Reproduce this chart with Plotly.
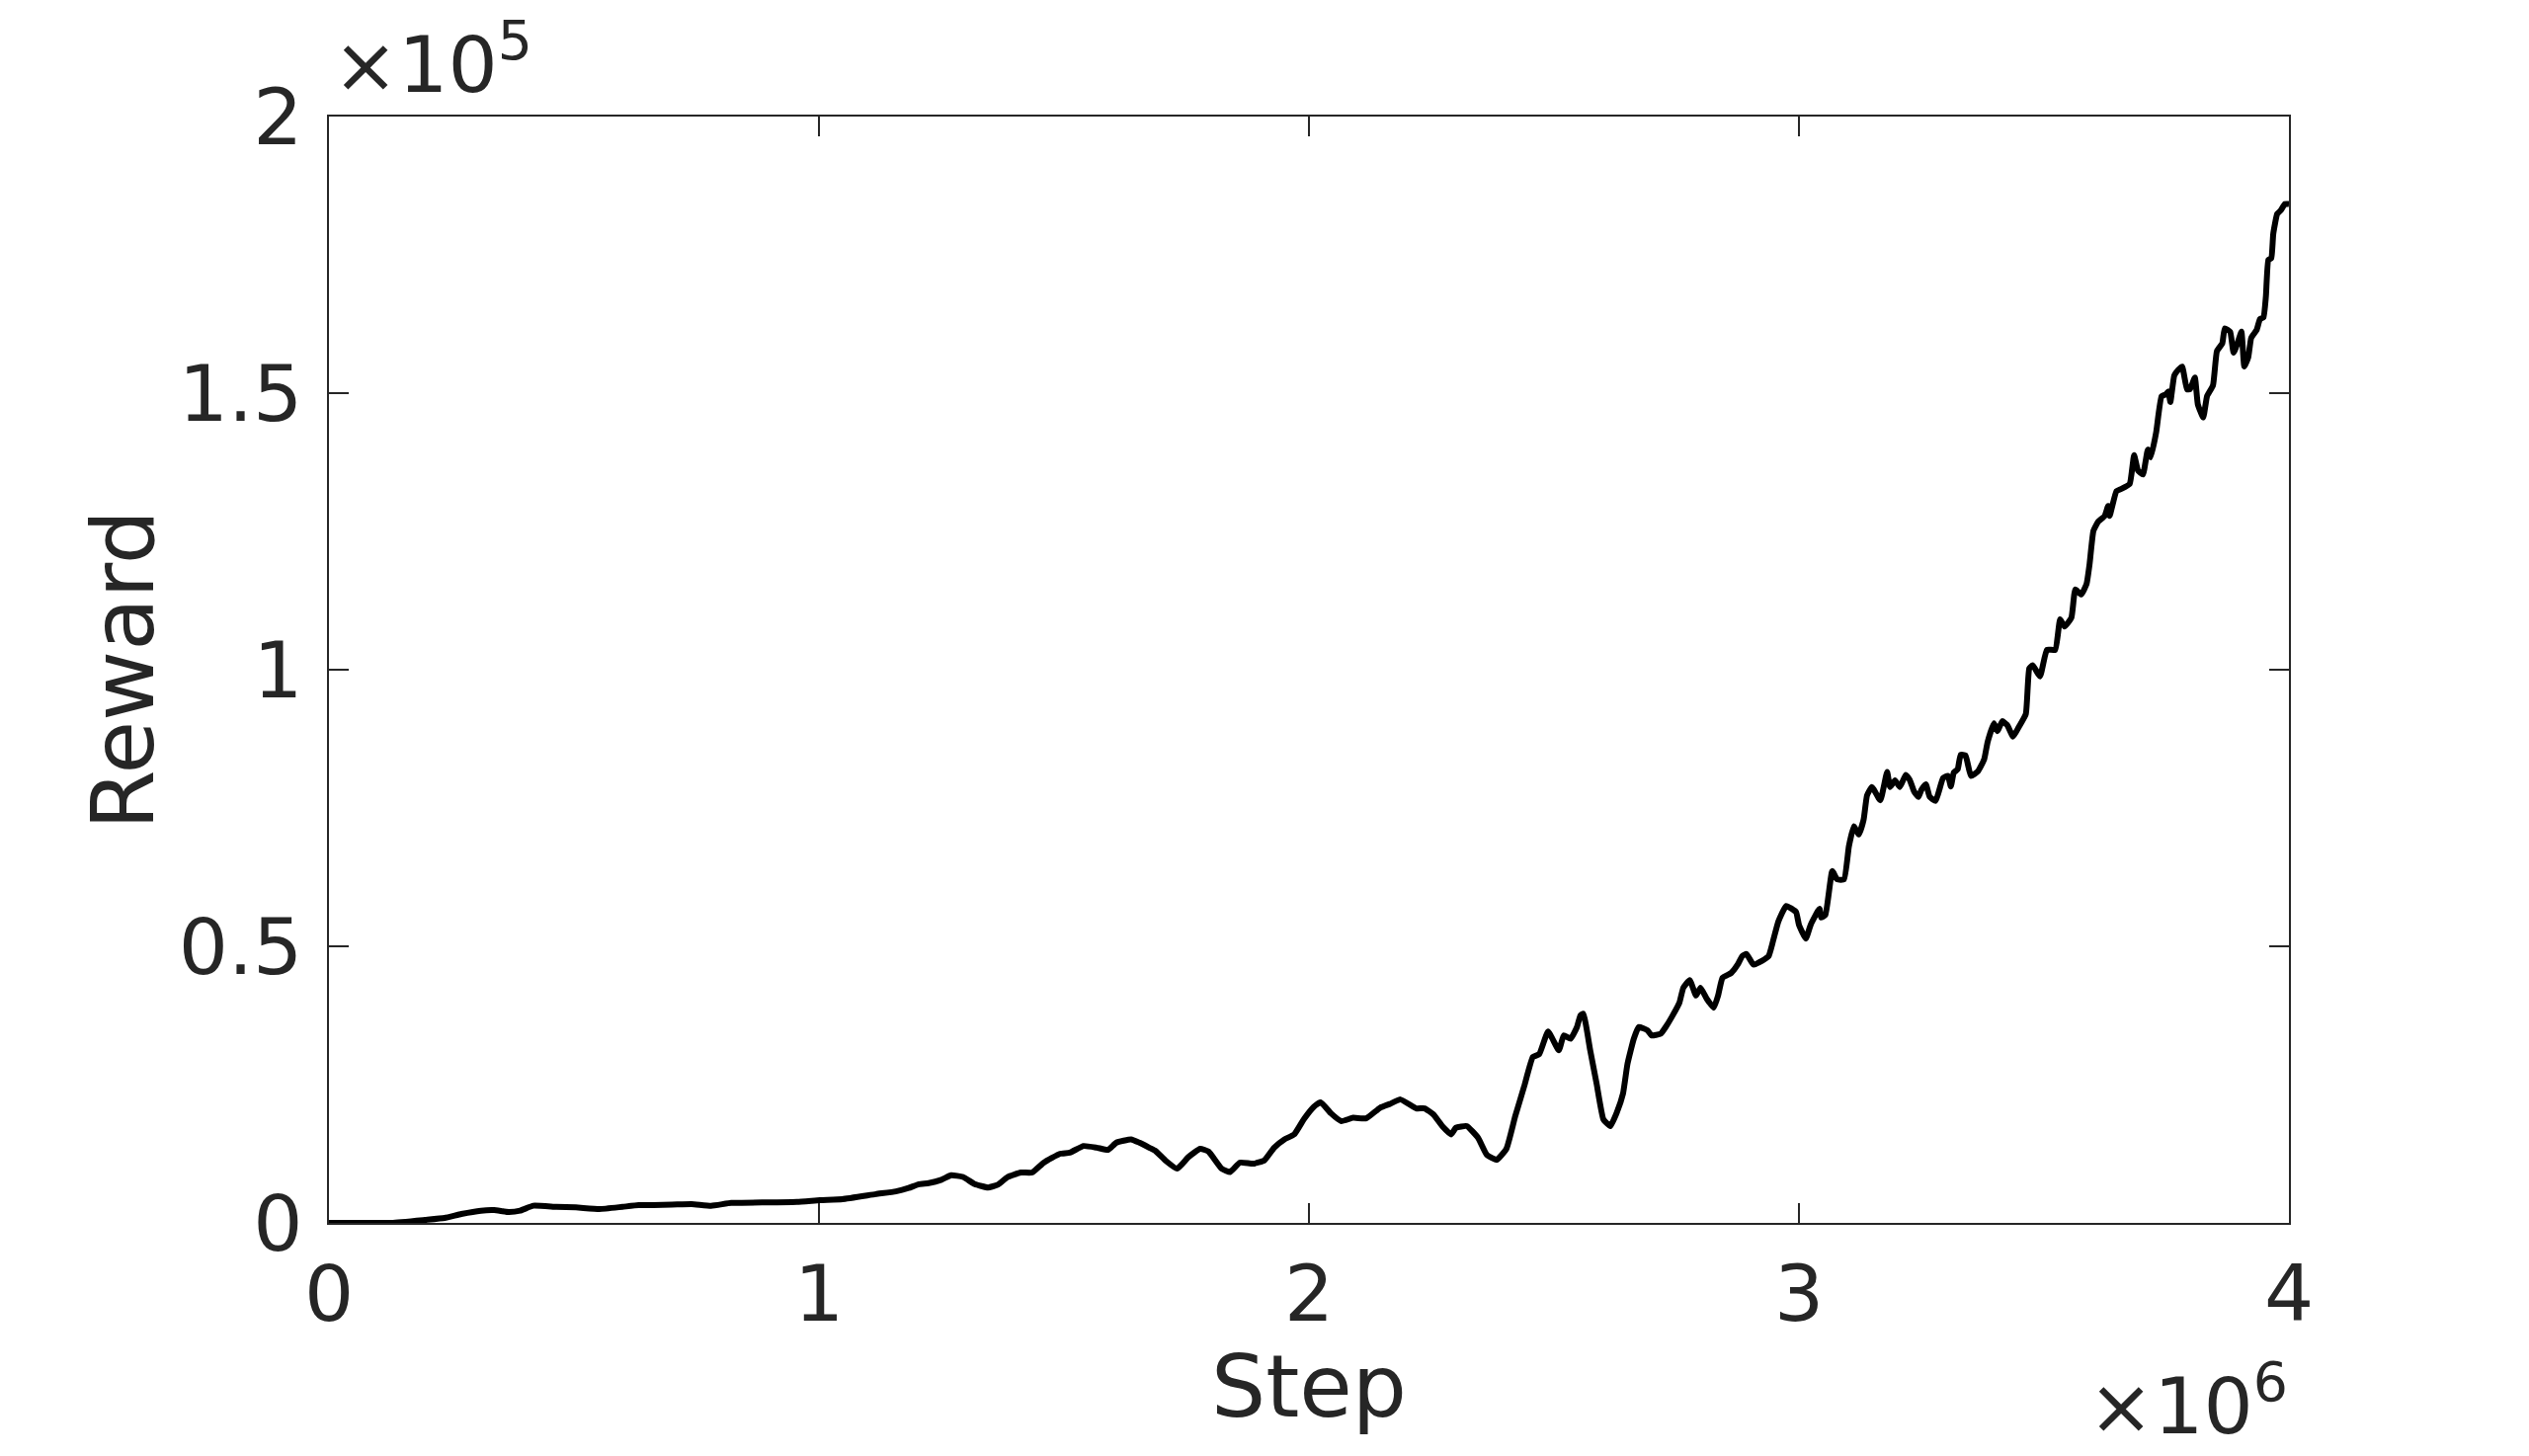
import plotly.graph_objects as go

# Training curve: environment steps vs. reward
steps_k = [
    0, 60, 128, 196, 236, 270, 310, 337, 367, 390, 417, 464, 504, 552, 599, 632,
    700, 740, 780, 821, 901, 955, 1002, 1048, 1116, 1157, 1183, 1204, 1224, 1250,
    1270, 1294, 1318, 1345, 1365, 1385, 1412, 1435, 1459, 1492, 1512, 1540, 1567,
    1590, 1607, 1637, 1654, 1674, 1687, 1708, 1731, 1754, 1778, 1795, 1822, 1839,
    1859, 1886, 1909, 1929, 1950, 1970, 1990, 2010, 2024, 2045, 2066, 2090, 2117,
    2145, 2165, 2187, 2219, 2236, 2254, 2272, 2290, 2300, 2322, 2345, 2363, 2383,
    2403, 2421, 2439, 2457, 2470, 2488, 2510, 2520, 2534, 2547, 2554, 2560, 2574,
    2587, 2601, 2615, 2628, 2641, 2650, 2663, 2673, 2691, 2699, 2718, 2728, 2741,
    2756, 2764, 2777, 2790, 2799, 2812, 2826, 2835, 2844, 2862, 2875, 2884, 2893,
    2907, 2925, 2938, 2947, 2958, 2974, 2994, 3000, 3014, 3024, 3042, 3045, 3054,
    3068, 3078, 3092, 3102, 3112, 3122, 3132, 3139, 3149, 3166, 3180, 3186, 3196,
    3206, 3218, 3226, 3235, 3244, 3250, 3259, 3267, 3279, 3294, 3304, 3310, 3316,
    3324, 3330, 3340, 3351, 3365, 3378, 3385, 3398, 3405, 3415, 3425, 3437, 3449,
    3463, 3470, 3477, 3492, 3506, 3523, 3533, 3542, 3556, 3564, 3576, 3587, 3593,
    3601, 3611, 3624, 3631, 3634, 3648, 3658, 3675, 3684, 3692, 3702, 3712, 3718,
    3729, 3740, 3749, 3754, 3758, 3766, 3774, 3782, 3792, 3798, 3808, 3814, 3825,
    3833, 3845, 3853, 3864, 3869, 3880, 3887, 3895, 3903, 3909, 3917, 3923, 3934,
    3941, 3948, 3953, 3958, 3964, 3968, 3976, 3983, 3992, 4000,
]
reward = [
    0, 0, 0, 540, 890, 1600, 2200, 2300, 1960, 2200, 3100, 2900, 2800, 2500, 2900, 3200,
    3300, 3400, 3100, 3600, 3700, 3800, 4100, 4300, 5200, 5700, 6300, 7000, 7200, 7800,
    8600, 8300, 7000, 6400, 6900, 8300, 9100, 9100, 10900, 12500, 12700, 13900, 13600,
    13200, 14500, 15100, 14500, 13600, 13000, 11200, 9800, 11900, 13400, 12900, 9800, 9200,
    10900, 10700, 11300, 13600, 15100, 16000, 18800, 21000, 21800, 19800, 18400, 19000, 18900,
    20800, 21500, 22300, 20700, 20700, 19600, 17500, 16000, 17200, 17500, 15400, 12300, 11400,
    13400, 19300, 24600, 30000, 30500, 34600, 31200, 33900, 33300, 35400, 37500, 37800, 31200,
    25200, 18700, 17500, 19900, 23400, 28700, 33300, 35400, 34800, 33900, 34200, 35400, 37300,
    39800, 42500, 43900, 41100, 42500, 40500, 38900, 41100, 44300, 45200, 46700, 48200, 48600,
    46700, 47400, 48200, 50900, 54500, 57300, 56200, 53900, 51400, 53900, 56800, 55200, 55700,
    63600, 62100, 62100, 68100, 71700, 70200, 72900, 77300, 78800, 76400, 81500, 78800, 80000,
    78800, 81000, 80100, 78000, 77000, 78300, 79300, 77000, 76300, 80400, 80800, 78900, 81400,
    82000, 84600, 84500, 80800, 81600, 83800, 86900, 90300, 88900, 90700, 90000, 87900, 89700,
    92000, 100200, 100800, 98800, 103600, 103600, 109100, 107800, 109400, 114500, 113600, 115500, 119000,
    125100, 126800, 127800, 129600, 127800, 132300, 132700, 133600, 138800, 136000, 135300, 139800, 138400,
    142900, 149400, 149800, 150300, 148400, 153200, 154200, 154800, 150700, 150700, 152800, 148000, 145600,
    149500, 151400, 157600, 159000, 161700, 161100, 157300, 159000, 161100, 154800, 156500, 160000, 161400,
    163400, 163700, 167500, 174100, 174400, 178800, 182400, 183000, 184200, 184200,
]
steps = [s * 1000 for s in steps_k]

x_tickvals = [0, 1e6, 2e6, 3e6, 4e6]
x_ticktext = ["0", "1", "2", "3", "4"]
y_tickvals = [0, 50000, 100000, 150000, 200000]
y_ticktext = ["0", "0.5", "1", "1.5", "2"]

TXT = "#262626"
FONT = "DejaVu Sans"
TICK_SIZE = 79
TITLE_SIZE = 87

fig = go.Figure()
fig.add_trace(go.Scatter(x=steps, y=reward, mode="lines",
                         line=dict(color="black", width=6, shape="spline", smoothing=0.4),
                         showlegend=False))

axis_common = dict(
    showgrid=False, zeroline=False, showline=True, linecolor=TXT, linewidth=1.6,
    mirror="ticks", ticks="inside", ticklen=20, tickwidth=1.6, tickcolor=TXT,
    tickfont=dict(family=FONT, size=TICK_SIZE, color=TXT),
)
fig.update_xaxes(range=[0, 4e6], tickvals=x_tickvals, ticktext=x_ticktext,
                 ticklabelstandoff=2, **axis_common)
fig.update_yaxes(range=[0, 2e5], tickvals=y_tickvals, ticktext=y_ticktext,
                 ticklabelstandoff=9, **axis_common)

# page has an 8px body margin; figure sized so no scrollbars appear
OFF = 8
W, H = 2560 - OFF, 1474 - OFF
L, T = 333 - OFF, 118 - OFF
pw, ph = 1984, 1120
R, B = W - L - pw, H - T - ph

def px_x(xp):  # page pixel -> paper x
    return (xp - OFF - L) / pw

def px_y(yp):  # page pixel -> paper y
    return (T + ph - (yp - OFF)) / ph

annots = [
    dict(text="Step", x=0.5, y=px_y(1404), xanchor="center", yanchor="middle",
         font=dict(family=FONT, size=TITLE_SIZE, color=TXT)),
    dict(text="Reward", x=px_x(125), y=0.5, xanchor="center", yanchor="middle",
         textangle=-90, font=dict(family=FONT, size=TITLE_SIZE, color=TXT)),
    dict(text="×10<sup>5</sup>", x=px_x(335), y=px_y(114), xanchor="left", yanchor="bottom",
         font=dict(family=FONT, size=TICK_SIZE, color=TXT)),
    dict(text="×10<sup>6</sup>", x=px_x(2318), y=px_y(1472), xanchor="right", yanchor="bottom",
         font=dict(family=FONT, size=TICK_SIZE, color=TXT)),
]
for a in annots:
    a.update(xref="paper", yref="paper", showarrow=False)

fig.update_layout(
    width=W, height=H, margin=dict(l=L, r=R, t=T, b=B, autoexpand=False),
    paper_bgcolor="white", plot_bgcolor="white",
    annotations=annots,
)

fig.write_html("out.html")
